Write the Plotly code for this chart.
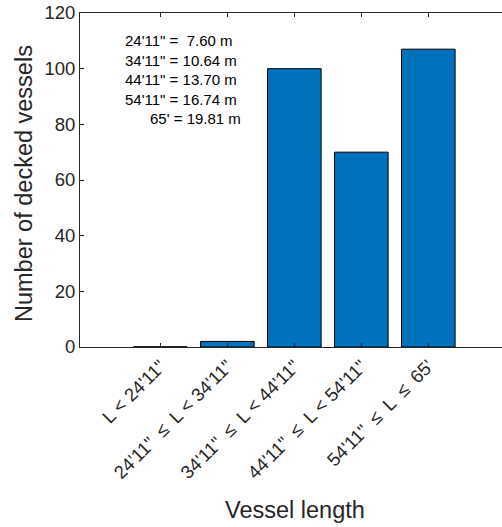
import plotly.graph_objects as go

# Vessel length classes and counts of decked vessels
LE = "\u2002≤\u2002"  # wider spacing around the relation sign
categories = [
    "L < 24'11\"",
    "24'11\"" + LE + "L < 34'11\"",
    "34'11\"" + LE + "L < 44'11\"",
    "44'11\"" + LE + "L < 54'11\"",
    "54'11\"" + LE + "L" + LE + "65'",
]
positions = [1, 2, 3, 4, 5]
counts = [0, 2, 100, 70, 107]

conversion_lines = [
    "24'11\" =\u00a0\u00a07.60 m",
    "34'11\" = 10.64 m",
    "44'11\" = 13.70 m",
    "54'11\" = 16.74 m",
    "\u00a0" * 6 + "65' = 19.81 m",
]

BAR_WIDTH = 0.8
FONT = "Liberation Sans, Arial, Helvetica, sans-serif"
INK = "#262626"

fig = go.Figure()
fig.add_trace(go.Bar(
    x=positions, y=counts, width=BAR_WIDTH,
    marker=dict(color="#0072BD", line=dict(color="black", width=1)),
    showlegend=False, hoverinfo="x+y",
))

# Empty classes still get a flat outline at their (zero) height
for xp, v in zip(positions, counts):
    if v == 0:
        fig.add_trace(go.Scatter(
            x=[xp - BAR_WIDTH / 2, xp + BAR_WIDTH / 2], y=[v, v],
            mode="lines", line=dict(color="black", width=1.2),
            showlegend=False, hoverinfo="skip", cliponaxis=False,
        ))

fig.update_layout(
    width=502, height=527, autosize=False,
    margin=dict(l=80, r=0, t=13, b=180),
    paper_bgcolor="white", plot_bgcolor="white",
    font=dict(family=FONT, color=INK, size=15),
    xaxis=dict(
        range=[-0.2, 6.1], tickvals=positions, ticktext=categories,
        tickangle=-45, ticks="inside", ticklen=4, tickcolor=INK,
        showline=True, linecolor=INK, linewidth=1, mirror="ticks",
        showgrid=False, zeroline=False, tickfont=dict(size=18.5),
    ),
    yaxis=dict(
        range=[0, 120], dtick=20, ticks="inside", ticklen=4, tickcolor=INK,
        showline=True, linecolor=INK, linewidth=1, mirror=False,
        showgrid=False, zeroline=False, tickfont=dict(size=18.5),
    ),
    annotations=[
        dict(text="<br>".join(conversion_lines), xref="paper", yref="paper",
             x=(123 - 80) / 422, y=1 - (30 - 13) / 334, xanchor="left", yanchor="top",
             align="left", showarrow=False, font=dict(size=15, color="black")),
        dict(text="Vessel length", xref="paper", yref="paper",
             x=(294.5 - 80) / 422, y=0, yanchor="middle", yshift=-163,
             showarrow=False, font=dict(size=23.5, color=INK)),
        dict(text="Number of decked vessels", xref="paper", yref="paper",
             x=0, xshift=-56, y=0.5, yshift=-4, textangle=-90, xanchor="center",
             showarrow=False, font=dict(size=23.5, color=INK)),
    ],
)

fig.write_html("out.html")
